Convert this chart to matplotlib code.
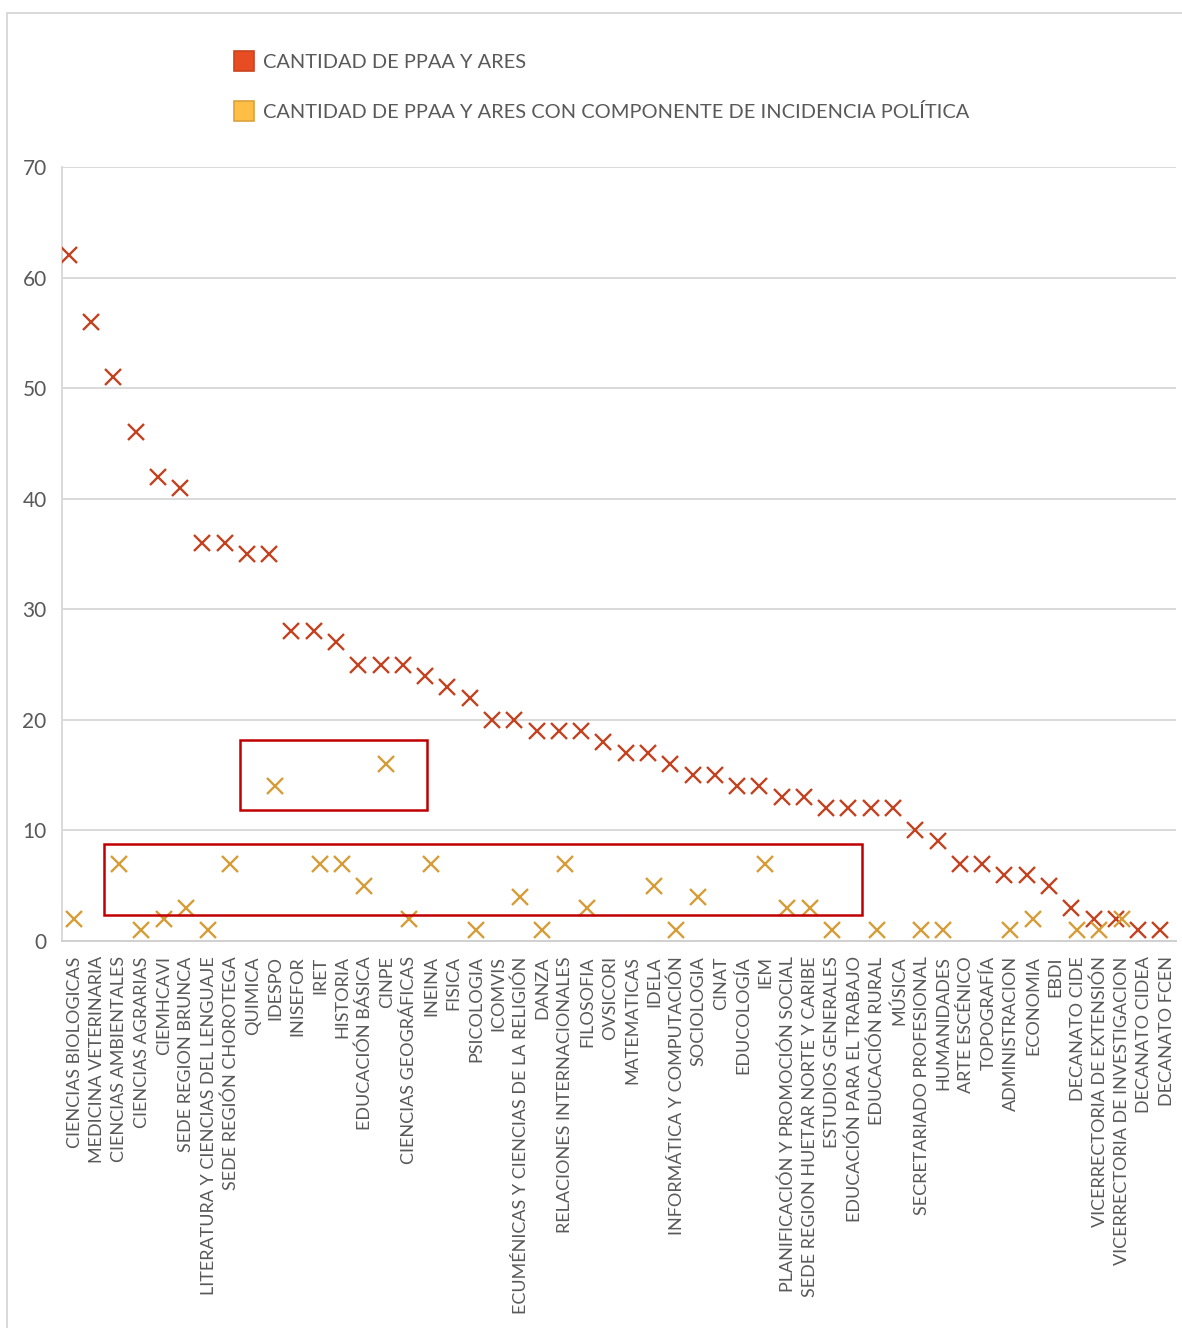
import numpy as np
import matplotlib.pyplot as plt
from matplotlib.patches import Rectangle
from matplotlib.lines import Line2D

plt.rcParams['font.family'] = ['Lato', 'DejaVu Sans']

unidades = [
    "CIENCIAS BIOLOGICAS", "MEDICINA VETERINARIA", "CIENCIAS AMBIENTALES",
    "CIENCIAS AGRARIAS", "CIEMHCAVI", "SEDE REGION BRUNCA",
    "LITERATURA Y CIENCIAS DEL LENGUAJE", "SEDE REGIÓN CHOROTEGA", "QUIMICA",
    "IDESPO", "INISEFOR", "IRET", "HISTORIA", "EDUCACIÓN BÁSICA", "CINPE",
    "CIENCIAS GEOGRÁFICAS", "INEINA", "FISICA", "PSICOLOGIA", "ICOMVIS",
    "ECUMÉNICAS Y CIENCIAS DE LA RELIGIÓN", "DANZA", "RELACIONES INTERNACIONALES",
    "FILOSOFIA", "OVSICORI", "MATEMATICAS", "IDELA", "INFORMÁTICA Y COMPUTACIÓN",
    "SOCIOLOGIA", "CINAT", "EDUCOLOGÍA", "IEM", "PLANIFICACIÓN Y PROMOCIÓN SOCIAL",
    "SEDE REGION HUETAR NORTE Y CARIBE", "ESTUDIOS GENERALES",
    "EDUCACIÓN PARA EL TRABAJO", "EDUCACIÓN RURAL", "MÚSICA",
    "SECRETARIADO PROFESIONAL", "HUMANIDADES", "ARTE ESCÉNICO", "TOPOGRAFÍA",
    "ADMINISTRACION", "ECONOMIA", "EBDI", "DECANATO CIDE",
    "VICERRECTORIA DE EXTENSIÓN", "VICERRECTORIA DE INVESTIGACION",
    "DECANATO CIDEA", "DECANATO FCEN",
]

total_ppaa = [62, 56, 51, 46, 42, 41, 36, 36, 35, 35,
              28, 28, 27, 25, 25, 25, 24, 23, 22, 20,
              20, 19, 19, 19, 18, 17, 17, 16, 15, 15,
              14, 14, 13, 13, 12, 12, 12, 12, 10, 9,
              7, 7, 6, 6, 5, 3, 2, 2, 1, 1]

nan = np.nan
incidencia = [2, nan, 7, 1, 2, 3, 1, 7, nan, 14,
              nan, 7, 7, 5, 16, 2, 7, nan, 1, nan,
              4, 1, 7, 3, nan, nan, 5, 1, 4, nan,
              nan, 7, 3, 3, 1, nan, 1, nan, 1, 1,
              nan, nan, 1, 2, nan, 1, 1, 2, nan, nan]

ROJO = "#c4421f"
AMARILLO = "#d69c38"
GRIS_TEXTO = "#595959"

fig = plt.figure(figsize=(11.82, 13.28), dpi=100)
ax = fig.add_axes([62 / 1182, 1 - 941 / 1328, 1114 / 1182, 774 / 1328])

x = np.arange(len(unidades))
ax.plot(x - 0.2, total_ppaa, linestyle="none", marker="x", ms=11, mew=1.7,
        color=ROJO, zorder=3)
ax.plot(x + 0.06, incidencia, linestyle="none", marker="x", ms=11, mew=1.7,
        color=AMARILLO, zorder=3)

ax.set_xlim(-0.5, len(unidades) - 0.5)
ax.set_ylim(0, 70)
ax.set_yticks(range(0, 71, 10))
ax.yaxis.grid(True, color="#d9d9d9", linewidth=1.4)
ax.set_axisbelow(True)
ax.set_xticks(x + 0.08)
ax.set_xticklabels(unidades, rotation=90, fontsize=13, color=GRIS_TEXTO)
ax.tick_params(axis="y", labelsize=15, colors=GRIS_TEXTO, length=0, pad=11)
ax.tick_params(axis="x", length=0, pad=11)
for lado in ["top", "right"]:
    ax.spines[lado].set_visible(False)
ax.spines["left"].set_color("#d9d9d9")
ax.spines["left"].set_linewidth(1.4)
ax.spines["bottom"].set_color("#d0d0d0")
ax.spines["bottom"].set_linewidth(1.4)

# Recuadros que resaltan las unidades con componente de incidencia política
ax.add_patch(Rectangle((7.49, 11.84), 8.39, 6.33, fill=False,
                       edgecolor="#c00000", linewidth=1.8, zorder=4))
ax.add_patch(Rectangle((1.385, 2.35), 34.03, 6.42, fill=False,
                       edgecolor="#c00000", linewidth=1.8, zorder=4))

handles = [
    Line2D([], [], linestyle="none", marker="s", ms=14, mfc="#e84c22",
           mec="#c9431e", mew=1.2),
    Line2D([], [], linestyle="none", marker="s", ms=14, mfc="#ffbf47",
           mec="#dba13a", mew=1.2),
]
fig.legend(handles,
           ["CANTIDAD DE PPAA Y ARES",
            "CANTIDAD DE PPAA Y ARES CON COMPONENTE DE INCIDENCIA POLÍTICA"],
           loc="upper left", bbox_to_anchor=(216 / 1182, 1 - 36 / 1328),
           frameon=False, fontsize=14.4, labelcolor=GRIS_TEXTO,
           handletextpad=0.45, labelspacing=1.6, handlelength=1.0)

# Marco del área del gráfico
fig.add_artist(Line2D([7 / 1182, 1], [1 - 13 / 1328, 1 - 13 / 1328],
                      transform=fig.transFigure, color="#d9d9d9", linewidth=1.4))
fig.add_artist(Line2D([7 / 1182, 7 / 1182], [0, 1 - 13 / 1328],
                      transform=fig.transFigure, color="#d9d9d9", linewidth=1.4))

fig.savefig("out.png", dpi=100, facecolor="white")
